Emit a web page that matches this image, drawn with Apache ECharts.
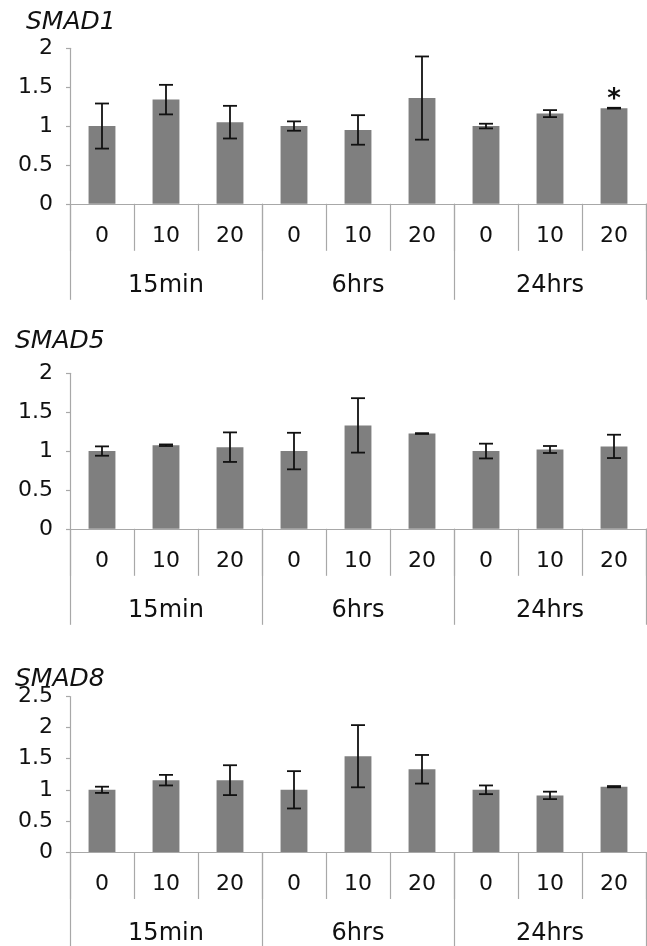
<!DOCTYPE html>
<html>
<head>
<meta charset="utf-8">
<script src="https://cdn.jsdelivr.net/npm/echarts@6/dist/echarts.min.js"></script>
<style>
html,body{margin:0;padding:0;background:#fff;}
#chart{width:647px;height:946px;}
</style>
</head>
<body>
<div id="chart"></div>
<script>
// ---- data ----
const doses = ['0', '10', '20', '0', '10', '20', '0', '10', '20'];
const groups = ['15min', '6hrs', '24hrs'];
const geneNames = ['SMAD1', 'SMAD5', 'SMAD8'];
const yMax = [2, 2, 2.5];

const smad1Mean = [1.00, 1.34, 1.05, 1.00, 0.95, 1.36, 1.00, 1.16, 1.23];
const smad1Err  = [0.29, 0.19, 0.21, 0.06, 0.19, 0.535, 0.03, 0.045, 0.005];
const smad1Sig  = ['', '', '', '', '', '', '', '', '*'];

const smad5Mean = [1.00, 1.075, 1.05, 1.00, 1.33, 1.225, 1.00, 1.02, 1.06];
const smad5Err  = [0.06, 0.01, 0.19, 0.235, 0.35, 0.005, 0.095, 0.045, 0.15];
const smad5Sig  = ['', '', '', '', '', '', '', '', ''];

const smad8Mean = [1.00, 1.155, 1.155, 1.00, 1.54, 1.33, 1.00, 0.91, 1.05];
const smad8Err  = [0.05, 0.085, 0.24, 0.30, 0.50, 0.23, 0.07, 0.06, 0.01];
const smad8Sig  = ['', '', '', '', '', '', '', '', ''];

const means = [smad1Mean, smad5Mean, smad8Mean];
const errs = [smad1Err, smad5Err, smad8Err];
const sigs = [smad1Sig, smad5Sig, smad8Sig];

// ---- layout ----
const FONT = 'DejaVu Sans';
const axisGray = '#a8a8a8';
const gridTops = [48.3, 373.3, 696.5];
const gridH = 155.5;
const titlePos = [[26, 10], [15, 329], [15, 667]];

const chart = echarts.init(document.getElementById('chart'), null, {renderer: 'canvas'});

const grids = [], xAxes = [], yAxes = [], series = [], titles = [];
for (let g = 0; g < 3; g++) {
  grids.push({left: 70, width: 576, top: gridTops[g], height: gridH, containLabel: false});
  titles.push({
    text: geneNames[g], left: titlePos[g][0], top: titlePos[g][1], padding: 0,
    textStyle: {fontFamily: FONT, fontSize: 25, fontStyle: 'italic', fontWeight: 'normal', color: '#111'}
  });
  xAxes.push({
    type: 'category', gridIndex: g, data: doses, position: 'bottom',
    axisLine: {show: true, lineStyle: {color: axisGray, width: 1.2}},
    axisTick: {show: true, interval: 0, length: 47, lineStyle: {color: axisGray, width: 1.2}},
    axisLabel: {interval: 0, margin: 21, fontFamily: FONT, fontSize: 22, color: '#111'},
    splitLine: {show: false}
  });
  xAxes.push({
    type: 'category', gridIndex: g, data: groups, position: 'bottom',
    axisLine: {show: false},
    axisTick: {show: true, interval: 0, length: 96, lineStyle: {color: axisGray, width: 1.2}},
    axisLabel: {interval: 0, margin: 70, fontFamily: FONT, fontSize: 24, color: '#111'},
    splitLine: {show: false}
  });
  yAxes.push({
    type: 'value', gridIndex: g, min: 0, max: yMax[g], interval: 0.5,
    axisLine: {show: true, lineStyle: {color: axisGray, width: 1.2}},
    axisTick: {show: true, length: 4, lineStyle: {color: axisGray, width: 1.2}},
    axisLabel: {margin: 17, fontFamily: FONT, fontSize: 22, color: '#111'},
    splitLine: {show: false}
  });
  series.push({
    type: 'bar', xAxisIndex: 2 * g, yAxisIndex: g, barWidth: '42%',
    itemStyle: {color: '#7f7f7f'},
    data: means[g].map((v, i) => ({
      value: v,
      label: {show: sigs[g][i] !== '', formatter: sigs[g][i], position: 'top', distance: -5,
              fontFamily: FONT, fontSize: 26, fontWeight: 'bold', color: '#111'}
    })),
    silent: true, animation: false
  });
  series.push({
    type: 'custom', xAxisIndex: 2 * g, yAxisIndex: g, silent: true, animation: false, z: 5,
    data: means[g].map((v, i) => [i, v - errs[g][i], v + errs[g][i]]),
    renderItem: function (params, api) {
      const i = api.value(0);
      const lo = api.coord([i, api.value(1)]);
      const hi = api.coord([i, api.value(2)]);
      const w = 7;
      const st = {stroke: '#111', lineWidth: 1.8};
      return {
        type: 'group', children: [
          {type: 'line', shape: {x1: lo[0], y1: lo[1], x2: hi[0], y2: hi[1]}, style: st},
          {type: 'line', shape: {x1: hi[0] - w, y1: hi[1], x2: hi[0] + w, y2: hi[1]}, style: st},
          {type: 'line', shape: {x1: lo[0] - w, y1: lo[1], x2: lo[0] + w, y2: lo[1]}, style: st}
        ]
      };
    }
  });
}

chart.setOption({
  animation: false,
  backgroundColor: '#fff',
  title: titles,
  grid: grids,
  xAxis: xAxes,
  yAxis: yAxes,
  series: series
});
</script>
</body>
</html>
